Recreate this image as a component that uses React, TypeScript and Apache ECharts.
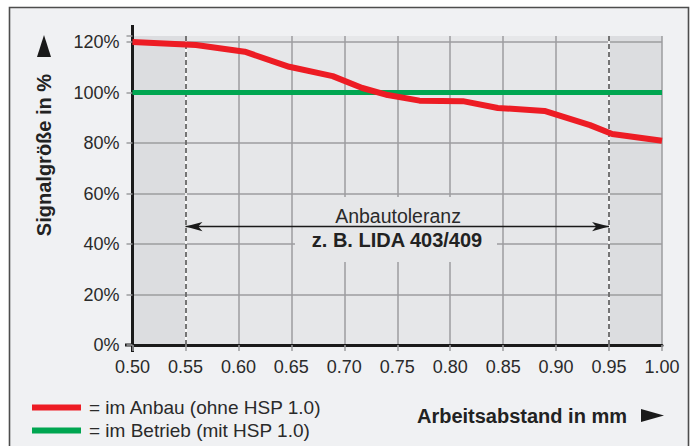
import React, { useEffect, useRef } from "react";
import * as echarts from "echarts";

// ---- data ----
const xTickValues = [0.5, 0.55, 0.6, 0.65, 0.7, 0.75, 0.8, 0.85, 0.9, 0.95, 1.0];
const yTickValues = [0, 20, 40, 60, 80, 100, 120];
const redX = [0.5, 0.56, 0.606, 0.648, 0.689, 0.717, 0.741, 0.771, 0.812, 0.845, 0.889, 0.932, 0.953, 1.0];
const redY = [120, 118.8, 116.2, 110.2, 106.5, 101.8, 99.0, 96.8, 96.6, 93.9, 92.7, 87.1, 83.6, 80.9];
const greenX = [0.5, 1.0];
const greenY = [100, 100];
const toleranceRange = [0.55, 0.95];
const toleranceArrowY = 46.9;
const legendNames = ["im Anbau (ohne HSP 1.0)", "im Betrieb (mit HSP 1.0)"];
const zoneStarts = [0.5, 0.55, 0.95];
const zoneEnds = [0.55, 0.95, 1.0];
const zoneKinds = [0, 1, 0];

const X_MIN = 0.5;
const X_MAX = 1.0;
const Y_MAX = 122.4;
const FONT = "'Liberation Sans', Arial, sans-serif";

export default function App() {
  const ref = useRef<HTMLDivElement>(null);
  useEffect(() => {
    if (!ref.current) return;
    const chart = echarts.init(ref.current, null, { renderer: "svg" });
    const gridLeft = 132.5;
    const gridTop = 36;
    const gridBottomY = 345;

    const splitX = xTickValues.map((v, i) =>
      i === 0 || Math.abs(v - toleranceRange[0]) < 1e-6 || Math.abs(v - toleranceRange[1]) < 1e-6
        ? "rgba(0,0,0,0)"
        : "#9d9d9f"
    );
    const splitY = yTickValues.map((v, i) => (i === 0 ? "rgba(0,0,0,0)" : "#9d9d9f"));
    splitY.push("rgba(0,0,0,0)");

    const option: any = {
      animation: false,
      backgroundColor: "#ffffff",
      textStyle: { fontFamily: FONT },
      grid: { left: gridLeft, right: 32, top: gridTop, bottom: 446 - gridBottomY },
      legend: {
        orient: "vertical",
        left: 27,
        top: 393,
        itemWidth: 49,
        itemHeight: 6,
        itemGap: 4,
        icon: "rect",
        data: legendNames,
        formatter: (n: string) => "= " + n,
        textStyle: { fontSize: 19, color: "#2a2a2a", fontFamily: FONT, padding: [0, 0, 0, 3] },
        selectedMode: false,
      },
      xAxis: {
        type: "value",
        min: X_MIN,
        max: X_MAX,
        interval: 0.05,
        z: 3,
        axisLine: { show: true, onZero: false, lineStyle: { color: "#1a1a1a", width: 3 } },
        axisTick: { show: true, length: 6, lineStyle: { color: "#9d9d9f", width: 1.5 } },
        axisLabel: {
          margin: 13,
          fontSize: 18,
          color: "#2a2a2a",
          fontFamily: FONT,
          formatter: (v: number) => v.toFixed(2),
        },
        splitLine: { show: true, lineStyle: { color: splitX, width: 1.5 } },
      },
      yAxis: {
        type: "value",
        min: 0,
        max: Y_MAX,
        interval: 20,
        z: 3,
        axisLine: { show: true, onZero: false, lineStyle: { color: "#1a1a1a", width: 3 } },
        axisTick: { show: true, length: 6, lineStyle: { color: "#9d9d9f", width: 1.5 } },
        axisLabel: {
          margin: 13,
          fontSize: 18,
          color: "#2a2a2a",
          fontFamily: FONT,
          formatter: (v: number) => (Math.abs(v % 20) < 1e-6 ? v + "%" : ""),
        },
        splitLine: { show: true, lineStyle: { color: splitY, width: 1.5 } },
      },
      series: [
        {
          name: "zones",
          type: "custom",
          z: 1,
          silent: true,
          encode: { x: [0, 1], y: 2 },
          data: zoneStarts.map((s, i) => [s, zoneEnds[i], zoneKinds[i]]),
          renderItem: (params: any, api: any) => {
            const p0 = api.coord([api.value(0), Y_MAX]);
            const p1 = api.coord([api.value(1), 0]);
            return {
              type: "rect",
              shape: { x: p0[0], y: p0[1], width: p1[0] - p0[0], height: p1[1] - p0[1] },
              style: { fill: api.value(2) ? "#e6e7e9" : "#dcdde0" },
            };
          },
        },
        {
          name: "tolWhite",
          type: "line",
          data: [],
          z: 4,
          markLine: {
            silent: true,
            symbol: ["none", "none"],
            label: { show: false },
            lineStyle: { color: "#ffffff", width: 1.5, type: "solid" },
            data: toleranceRange.map((v) => ({ xAxis: v })),
          },
        },
        {
          name: "tolDash",
          type: "line",
          data: [],
          z: 4,
          markLine: {
            silent: true,
            symbol: ["none", "none"],
            label: { show: false },
            lineStyle: { color: "#4a4a4a", width: 1.5, type: [5, 3] },
            data: toleranceRange.map((v) => ({ xAxis: v })),
          },
        },
        {
          name: "tolArrow",
          type: "line",
          data: [],
          z: 5,
          markLine: {
            silent: true,
            symbol: ["arrow", "arrow"],
            symbolSize: [7, 17],
            label: { show: false },
            lineStyle: { color: "#1a1a1a", width: 1.3, type: "solid" },
            data: [[{ coord: [toleranceRange[0], toleranceArrowY] }, { coord: [toleranceRange[1], toleranceArrowY] }]],
          },
        },
        {
          name: legendNames[1],
          type: "line",
          z: 5,
          color: "#00a651",
          showSymbol: false,
          lineStyle: { width: 5, color: "#00a651" },
          data: greenX.map((x, i) => [x, greenY[i]]),
        },
        {
          name: legendNames[0],
          type: "line",
          z: 6,
          color: "#ed1c24",
          showSymbol: false,
          lineStyle: { width: 6, color: "#ed1c24", join: "round" },
          data: redX.map((x, i) => [x, redY[i]]),
        },
      ],
      graphic: [
        {
          type: "rect",
          z: -10,
          silent: true,
          shape: { x: 9.5, y: 7.5, width: 679, height: 460 },
          style: { fill: "#f0f1f3", stroke: "#4d4d4d", lineWidth: 1.6 },
        },
        // axis extensions
        { type: "rect", z: 3, silent: true, shape: { x: gridLeft - 1.5, y: 25, width: 3, height: 12 }, style: { fill: "#1a1a1a" } },
        { type: "rect", z: 3, silent: true, shape: { x: gridLeft - 1.5, y: gridBottomY, width: 3, height: 7 }, style: { fill: "#1a1a1a" } },
        { type: "rect", z: 3, silent: true, shape: { x: 125, y: gridBottomY - 1.5, width: 8, height: 3 }, style: { fill: "#1a1a1a" } },
        // mask behind annotation
        { type: "rect", z: 4, silent: true, shape: { x: 295, y: 197, width: 202, height: 65 }, style: { fill: "#e6e7e9" } },
        {
          type: "text",
          z: 7,
          silent: true,
          x: 398,
          y: 215.5,
          style: { text: "Anbautoleranz", fontSize: 19.5, fontFamily: FONT, fill: "#2a2a2a", align: "center", verticalAlign: "middle" },
        },
        {
          type: "text",
          z: 7,
          silent: true,
          x: 397,
          y: 240,
          style: { text: "z. B. LIDA 403/409", fontSize: 20, fontWeight: "bold", fontFamily: FONT, fill: "#222", align: "center", verticalAlign: "middle" },
        },
        // y axis title
        {
          type: "text",
          z: 7,
          silent: true,
          x: 44,
          y: 155,
          rotation: Math.PI / 2,
          style: { text: "Signalgröße in %", fontSize: 20, fontWeight: "bold", fontFamily: FONT, fill: "#222", align: "center", verticalAlign: "middle" },
        },
        { type: "polygon", z: 7, silent: true, shape: { points: [[37, 57], [51, 57], [44, 35]] }, style: { fill: "#1a1a1a" } },
        // x axis title
        {
          type: "text",
          z: 7,
          silent: true,
          x: 627,
          y: 416,
          style: { text: "Arbeitsabstand in mm", fontSize: 20, fontWeight: "bold", fontFamily: FONT, fill: "#222", align: "right", verticalAlign: "middle" },
        },
        { type: "polygon", z: 7, silent: true, shape: { points: [[641, 409], [641, 422], [664, 415.5]] }, style: { fill: "#1a1a1a" } },
      ],
    };
    chart.setOption(option);
    return () => chart.dispose();
  }, []);
  return <div ref={ref} style={{ position: "absolute", left: 0, top: 0, width: 694, height: 446 }} />;
}
